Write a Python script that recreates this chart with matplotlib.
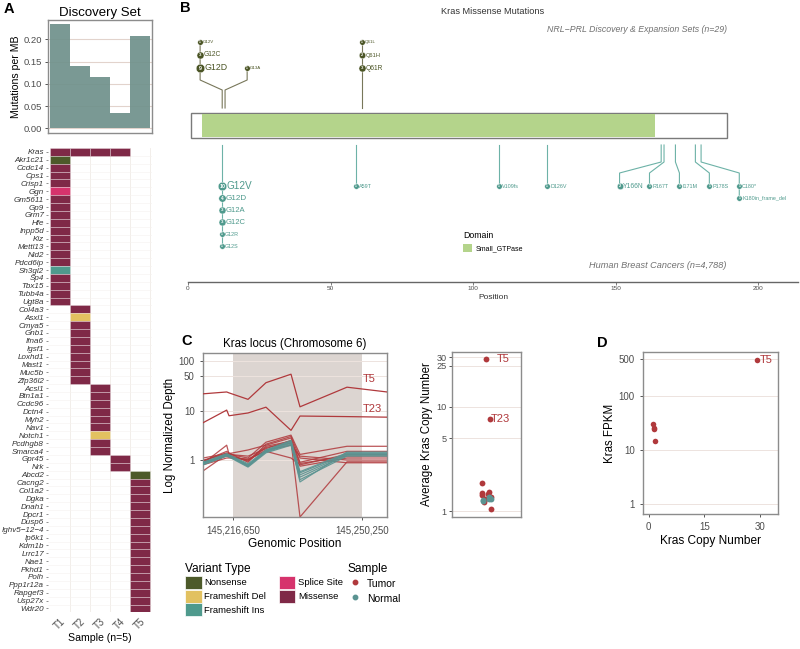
import numpy as np
import matplotlib.pyplot as plt
import matplotlib.transforms as mtransforms
from matplotlib.patches import Rectangle, Patch
from matplotlib.lines import Line2D

plt.rcParams['font.family'] = ['Liberation Sans', 'DejaVu Sans']

# ---------------- data ----------------
# A: discovery set
samples = ['T1', 'T2', 'T3', 'T4', 'T5']
mut_per_mb = [0.234, 0.139, 0.116, 0.034, 0.208]

kras_samples = ['T1', 'T2', 'T3', 'T4']
genes_t1 = ['Akr1c21', 'Ccdc14', 'Cps1', 'Crisp1', 'Ggn', 'Gm5611', 'Gp9', 'Grm7', 'Hfe',
            'Inpp5d', 'Kiz', 'Mettl13', 'Nid2', 'Pdcd6ip', 'Sh3gl2', 'Sp4', 'Tbx15',
            'Tubb4a', 'Ugt8a']
genes_t2 = ['Col4a3', 'Asxl1', 'Cmya5', 'Gnb1', 'Ifna6', 'Igsf1', 'Loxhd1', 'Mast1',
            'Muc5b', 'Zfp36l2']
genes_t3 = ['Acsl1', 'Btn1a1', 'Ccdc96', 'Dctn4', 'Myh2', 'Nav1', 'Notch1', 'Pcdhgb8',
            'Smarca4']
genes_t4 = ['Gpr45', 'Nrk']
genes_t5 = ['Abcd2', 'Cacng2', 'Col1a2', 'Dgka', 'Dnah1', 'Dpcr1', 'Dusp6', 'Ighv5\u221212\u22124',
            'Ip6k1', 'Kdm1b', 'Lrrc17', 'Nae1', 'Pkhd1', 'Polh', 'Ppp1r12a', 'Rapgef3',
            'Usp27x', 'Wdr20']
other_types = {'Akr1c21': 'Nonsense', 'Ggn': 'Splice Site', 'Sh3gl2': 'Frameshift Ins',
               'Asxl1': 'Frameshift Del', 'Notch1': 'Frameshift Del', 'Abcd2': 'Nonsense'}
variant_types = ['Nonsense', 'Frameshift Del', 'Frameshift Ins', 'Splice Site', 'Missense']
variant_colors = ['#4d5a2a', '#e2c160', '#4f9a8d', '#d6336c', '#7f2947']

# B: Kras lolliplot
protein_len = 189
domain_start, domain_end = 5, 164
top_site = [12, 12, 12, 13, 61, 61, 61]
top_aa = ['G12D', 'G12C', 'G12V', 'G13A', 'Q61R', 'Q61H', 'Q61L']
top_n = [9, 3, 1, 1, 3, 2, 1]
bot_site = [12, 12, 12, 12, 12, 12, 59, 109, 126, 166, 167, 171, 178, 180, 180]
bot_aa = ['G12V', 'G12D', 'G12A', 'G12C', 'G12R', 'G12S', 'A59T', 'V109fs', 'D126V',
          'Y166N', 'R167T', 'I171M', 'P178S', 'C180*', 'K180in_frame_del']
bot_n = [10, 4, 3, 3, 1, 1, 1, 1, 1, 2, 1, 1, 1, 1, 1]

# C: locus depth
locus_pos = [145208720, 145214920, 145215530, 145220500, 145225200,
             145231750, 145234100, 145246400, 145256870]
exon_span = [145216650, 145250250]
depth_t5 = [22, 24, 23, 17, 37, 55, 12, 30, 24]
depth_t23 = [5.7, 10.3, 7.9, 9.0, 11.8, 4.0, 7.8, 7.6, 7.4]
depth_tumor = [
    [0.60, 1.30, 1.20, 1.00, 1.90, 2.40, 0.07, 0.92, 0.92],
    [0.85, 2.00, 1.30, 1.10, 2.30, 3.20, 1.30, 1.90, 1.90],
    [0.95, 1.40, 1.35, 1.60, 2.00, 2.80, 0.90, 1.50, 1.50],
    [1.00, 1.30, 1.25, 0.95, 1.80, 2.20, 0.75, 1.10, 1.10],
    [0.90, 1.20, 1.15, 1.00, 1.60, 2.00, 1.20, 1.00, 1.00],
    [1.10, 1.35, 1.30, 1.20, 1.70, 2.50, 0.85, 1.20, 1.20],
    [0.95, 1.50, 1.40, 0.90, 2.10, 3.00, 1.10, 0.88, 0.88],
    [0.80, 1.10, 1.10, 1.05, 1.50, 1.10, 0.80, 1.30, 1.30],
]
depth_normal = [
    [0.80, 1.20, 1.15, 0.72, 1.40, 2.00, 0.45, 1.25, 1.25],
    [0.85, 1.25, 1.20, 0.76, 1.50, 2.20, 0.50, 1.30, 1.30],
    [0.88, 1.30, 1.25, 0.80, 1.55, 2.40, 0.55, 1.35, 1.35],
    [0.82, 1.22, 1.18, 0.78, 1.45, 2.10, 0.40, 1.20, 1.20],
    [0.90, 1.35, 1.28, 0.84, 1.60, 2.50, 0.58, 1.40, 1.40],
    [0.86, 1.28, 1.22, 0.74, 1.52, 2.30, 0.36, 1.45, 1.45],
]
cn_tumor = [29.0, 7.7, 1.85, 1.52, 1.45, 1.42, 1.38, 1.30, 1.22, 1.05, 1.48]
cn_normal = [1.30, 1.35, 1.28, 1.25, 1.32, 1.38]

# D: expression vs copy number
d_cn = [29.2, 1.08, 1.40, 1.30, 1.80]
d_fpkm = [464, 30.4, 24.4, 25.5, 14.9]

# ---------------- style ----------------
W, H = 800, 649
RED = '#b0393c'
TEAL = '#5a9391'
GRID = '#ede3de'
FRAME = '#8c8c8c'
TXT = '#4d4d4d'
vcol = dict(zip(variant_types, variant_colors))

fig = plt.figure(figsize=(8, 6.49), dpi=100)


def px_axes(x0, y0, x1, y1):
    return fig.add_axes([x0 / W, 1 - y1 / H, (x1 - x0) / W, (y1 - y0) / H])


def frame(ax):
    for s in ax.spines.values():
        s.set_color(FRAME)
        s.set_linewidth(1.0)
    ax.tick_params(colors='#555555', labelcolor=TXT, length=2.5, width=0.7, labelsize=7)


# ---------------- A ----------------
axb = px_axes(48, 20, 152, 133)
axb.bar(np.arange(1, 6), mut_per_mb, width=1.0, color='#6f918b', alpha=0.92, zorder=2)
axb.set_xlim(0.4, 5.6)
axb.set_ylim(-0.0106, 0.2434)
axb.set_yticks([0, 0.05, 0.10, 0.15, 0.20])
axb.set_yticklabels(['0.00', '0.05', '0.10', '0.15', '0.20'])
axb.set_xticks([])
axb.set_axisbelow(True)
axb.yaxis.grid(True, color='#e2d3cc', lw=0.8)
frame(axb)
axb.tick_params(labelsize=6.8, pad=1.5)
axb.set_ylabel('Mutations per MB', fontsize=7.6, labelpad=2)
axb.set_title('Discovery Set', fontsize=9.5, pad=3)

rows = ['Kras'] + genes_t1 + genes_t2 + genes_t3 + genes_t4 + genes_t5
tiles = [('Kras', s) for s in kras_samples]
for s, gl in zip(samples, [genes_t1, genes_t2, genes_t3, genes_t4, genes_t5]):
    tiles += [(g, s) for g in gl]

axh = px_axes(48, 148, 152, 612.4)
for xb in np.arange(1.5, 6.0, 1):
    axh.axvline(xb, color='#f0ebe7', lw=0.6, zorder=0)
for yb in np.arange(0.5, len(rows), 1):
    axh.axhline(yb, color='#f6f2ef', lw=0.4, zorder=0)
for g, s in tiles:
    axh.barh(rows.index(g), 1, left=samples.index(s) + 0.5, height=1,
             color=vcol[other_types.get(g, 'Missense')],
             edgecolor=(1, 1, 1, 0.35), linewidth=0.6, zorder=2)
axh.set_xlim(0.4, 5.6)
axh.set_ylim(len(rows) - 0.5, -0.5)
axh.set_yticks(range(len(rows)))
axh.set_yticklabels(rows, fontstyle='italic', fontsize=5.8, color='#333333')
axh.set_xticks(range(1, 6))
axh.set_xticklabels(samples, rotation=45, ha='right', va='top', fontsize=7, color=TXT,
                    rotation_mode='anchor')
axh.tick_params(axis='y', length=1.8, width=0.5, color='#666666', pad=1)
axh.tick_params(axis='x', length=0, pad=3)
for s in axh.spines.values():
    s.set_visible(False)
axh.set_xlabel('Sample (n=5)', fontsize=7.6, labelpad=1)

# ---------------- B ----------------
axB = px_axes(188, 0, 798, 282)
axB.set_xlim(0, 214)
axB.set_ylim(282, 0)
for k in ['top', 'left', 'right']:
    axB.spines[k].set_visible(False)
axB.spines['bottom'].set_color('#666666')
axB.spines['bottom'].set_linewidth(1.0)
axB.set_yticks([])
axB.set_xticks([0, 50, 100, 150, 200])
axB.tick_params(axis='x', labelsize=4.6, length=2, width=0.6, color='#666666', labelcolor=TXT, pad=1)
axB.set_xlabel('Position', fontsize=6, labelpad=2, color='#333333')

axB.add_patch(Rectangle((1, 113), protein_len - 1, 25, fc='white', ec='#7a7a7a', lw=1.0, zorder=2))
axB.add_patch(Rectangle((domain_start, 113.6), domain_end - domain_start, 23.8, fc='#b4d48b',
                        ec='none', zorder=3))

mix = mtransforms.blended_transform_factory(axB.transAxes, axB.transData)
axB.text(0.5, 12, 'Kras Missense Mutations', transform=mix, ha='center', va='center',
         fontsize=6.6, color='#333333')
axB.text(protein_len, 29, 'NRL\u2212PRL Discovery & Expansion Sets (n=29)', ha='right', va='center',
         fontsize=6.3, fontstyle='italic', color='#707070')
axB.text(protein_len, 266, 'Human Breast Cancers (n=4,788)', ha='right', va='center',
         fontsize=6.6, fontstyle='italic', color='#707070')


def spread(sites, gap):
    groups = [[s] for s in sorted(set(sites))]
    while True:
        pos = [np.mean(g) + gap * (np.arange(len(g)) - (len(g) - 1) / 2) for g in groups]
        for i in range(len(groups) - 1):
            if pos[i][-1] + gap > pos[i + 1][0] + 1e-9:
                groups[i] = groups[i] + groups.pop(i + 1)
                break
        else:
            return {s: p for g, ps in zip(groups, pos) for s, p in zip(g, ps)}


def lolli(ax, site, labels, counts, gap, y0, y1, ybend, yfirst, step, col, lcol, fs0, fs1):
    lab_x = spread(site, gap)
    nmax = max(counts)
    for s in sorted(set(site)):
        idx = [i for i, v in enumerate(site) if v == s]
        lx = lab_x[s]
        ylast = yfirst + step * (len(idx) - 1)
        ax.plot([s, s, lx, lx], [y0, y1, ybend, ylast], color=lcol, lw=0.8, zorder=3,
                solid_joinstyle='miter')
        for k, i in enumerate(idx):
            y = yfirst + step * k
            f = np.log(counts[i]) / np.log(nmax)
            ms = 4.0 + 2.2 * f
            ax.plot(lx, y, 'o', ms=ms, mfc=col, mec='white', mew=0.3, zorder=4)
            ax.text(lx, y, str(counts[i]), color='white', fontsize=ms * 0.62, ha='center',
                    va='center', zorder=5, fontweight='bold')
            ax.annotate(labels[i], (lx, y), xytext=(ms / 2 + 0.1, 0), textcoords='offset points',
                        fontsize=fs0 + fs1 * f, color=col, va='center', ha='left', zorder=5)


lolli(axB, top_site, top_aa, top_n, 16.5, 108, 90, 80, 68, -13, '#4a5424', '#78775a', 3.2, 3.1)
lolli(axB, bot_site, bot_aa, bot_n, 10.5, 145, 162, 173, 186, 12, '#4f9a8d', '#6db2a7', 3.9, 3.3)

axB.legend(handles=[Patch(fc='#b4d48b', ec='none')], labels=['Small_GTPase'], title='Domain',
           loc='upper left', bbox_to_anchor=(460 / W, 1 - 228 / H), bbox_transform=fig.transFigure,
           frameon=False, fontsize=5, title_fontsize=6.3, handlelength=1.3, handleheight=1.3,
           handletextpad=0.5, borderpad=0, alignment='left')

# ---------------- C ----------------
axC = px_axes(203, 353, 387, 517)
axC.set_yscale('log')
axC.axvspan(exon_span[0], exon_span[1], color='#dcd5d1', zorder=0, lw=0)
for yv in [1, 10, 50, 100]:
    axC.axhline(yv, color=GRID, lw=0.7, zorder=0.5)
for d in depth_tumor:
    axC.plot(locus_pos, d, color=RED, lw=0.9, alpha=0.85, zorder=2)
for d in depth_normal:
    axC.plot(locus_pos, d, color=TEAL, lw=0.9, alpha=0.9, zorder=3)
axC.plot(locus_pos, depth_t5, color=RED, lw=0.9, zorder=4)
axC.plot(locus_pos, depth_t23, color=RED, lw=0.9, zorder=4)
axC.text(exon_span[1] + 300, 44, 'T5', color=RED, fontsize=8, va='center', ha='left')
axC.text(exon_span[1] + 300, 10.8, 'T23', color=RED, fontsize=8, va='center', ha='left')
axC.set_xlim(locus_pos[0], locus_pos[-1])
axC.set_ylim(0.07, 148)
axC.set_yticks([1, 10, 50, 100])
axC.set_yticklabels(['1', '10', '50', '100'])
axC.yaxis.set_minor_locator(plt.NullLocator())
axC.set_xticks(exon_span)
axC.set_xticklabels(['{:,}'.format(v) for v in exon_span])
frame(axC)
axC.set_title('Kras locus (Chromosome 6)', fontsize=8.3, pad=4)
axC.set_ylabel('Log Normalized Depth', fontsize=8.3, labelpad=2)
axC.set_xlabel('Genomic Position', fontsize=8.6, labelpad=2)

axR = px_axes(452, 352, 521, 517)
axR.set_yscale('log')
for yv in [1, 5, 10, 25, 30]:
    axR.axhline(yv, color=GRID, lw=0.7, zorder=0)
jit_t = 0.085 * np.sin(np.arange(len(cn_tumor)) * 2.3)
jit_n = 0.085 * np.sin(np.arange(len(cn_normal)) * 1.7 + 0.5)
axR.plot(1 + jit_t, cn_tumor, 'o', ms=4.2, color=RED, mec='none', zorder=2)
axR.plot(1 + jit_n, cn_normal, 'o', ms=4.2, color=TEAL, mec='none', zorder=3)
axR.text(1.17, cn_tumor[0], 'T5', color=RED, fontsize=8, va='center')
axR.text(1.08, cn_tumor[1], 'T23', color=RED, fontsize=8, va='center')
axR.set_xlim(0.4, 1.6)
axR.set_ylim(0.88, 33.7)
axR.set_xticks([])
axR.set_yticks([1, 5, 10, 25, 30])
axR.set_yticklabels(['1', '5', '10', '25', '30'])
axR.yaxis.set_minor_locator(plt.NullLocator())
frame(axR)
axR.tick_params(axis='y', labelsize=6.6, pad=1.5)
axR.set_ylabel('Average Kras Copy Number', fontsize=8.3, labelpad=2)

# ---------------- D ----------------
axD = px_axes(643, 352, 778, 514)
axD.set_yscale('log')
for yv in [1, 10, 100, 500]:
    axD.axhline(yv, color=GRID, lw=0.7, zorder=0)
axD.plot(d_cn, d_fpkm, 'o', ms=4.0, color=RED, mec='none', zorder=2)
axD.text(d_cn[0] + 0.6, d_fpkm[0], 'T5', color=RED, fontsize=8, va='center')
axD.set_xlim(-1.53, 34.8)
axD.set_ylim(0.65, 661)
axD.set_xticks([0, 15, 30])
axD.set_yticks([1, 10, 100, 500])
axD.set_yticklabels(['1', '10', '100', '500'])
axD.yaxis.set_minor_locator(plt.NullLocator())
frame(axD)
axD.set_ylabel('Kras FPKM', fontsize=8.3, labelpad=2)
axD.set_xlabel('Kras Copy Number', fontsize=8.6, labelpad=2)

# ---------------- legends ----------------
vhandles = [Patch(fc=c, ec='white', lw=0.5) for c in variant_colors]
fig.legend(vhandles, variant_types, title='Variant Type', loc='upper left', ncol=2,
           bbox_to_anchor=(185 / W, 1 - 563 / H), frameon=False, fontsize=6.8,
           title_fontsize=8.6, handlelength=1.75, handleheight=1.75, labelspacing=0.08,
           handletextpad=0.3, columnspacing=1.3, borderpad=0, borderaxespad=0,
           alignment='left')
shandles = [Line2D([], [], ls='none', marker='o', ms=3.2, color=RED),
            Line2D([], [], ls='none', marker='o', ms=3.2, color=TEAL)]
fig.legend(shandles, ['Tumor', 'Normal'], title='Sample', loc='upper left',
           bbox_to_anchor=(347 / W, 1 - 563 / H), frameon=False, fontsize=7.5,
           title_fontsize=8.6, handlelength=1.6, handleheight=1.6, labelspacing=0.15,
           handletextpad=0.3, borderpad=0, borderaxespad=0, alignment='left')

# panel letters
for lab, x, y in [('A', 4, 2), ('B', 180, 1), ('C', 181, 334), ('D', 597, 336)]:
    fig.text(x / W, 1 - y / H, lab, fontsize=10.5, fontweight='bold', va='top', ha='left')

fig.savefig('out.png', dpi=100)
